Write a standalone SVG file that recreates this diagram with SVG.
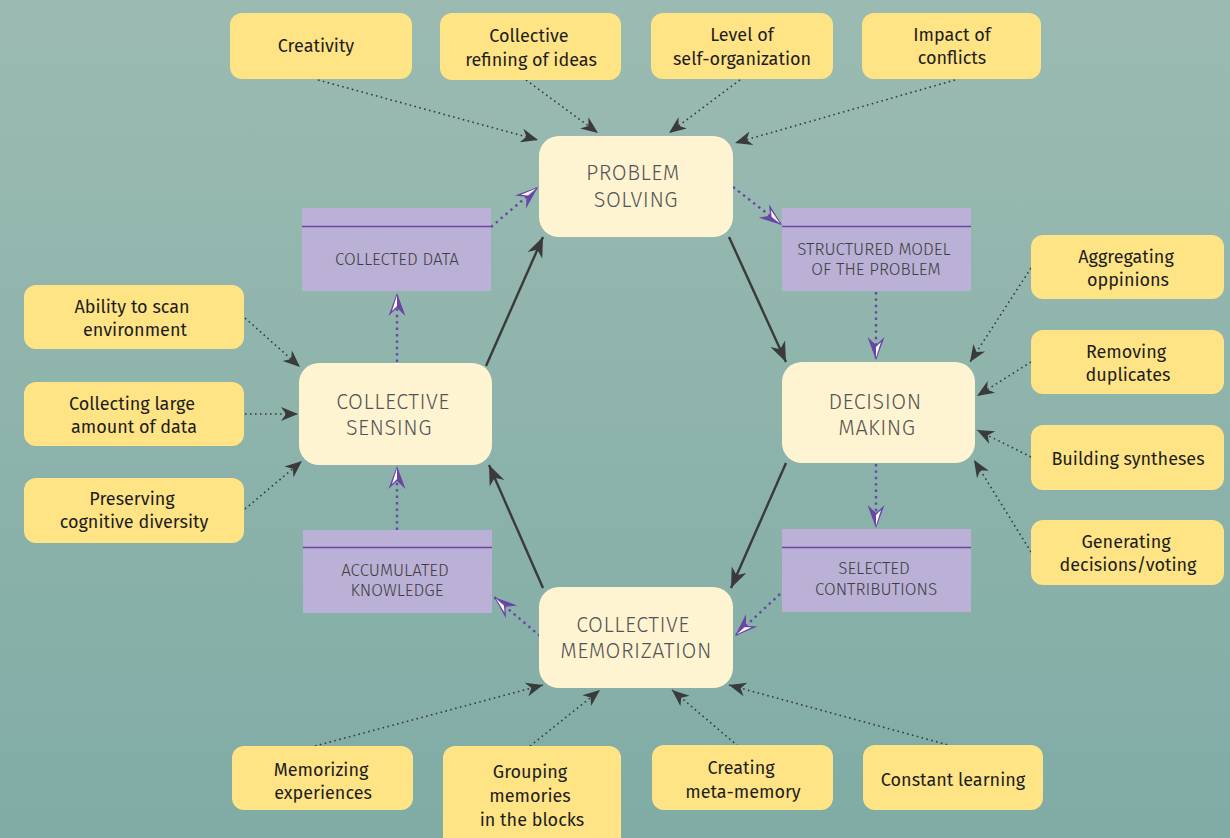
<svg xmlns="http://www.w3.org/2000/svg" width="1230" height="838" viewBox="0 0 1230 838">
<defs>
<linearGradient id="bg" x1="0" y1="0" x2="0" y2="1">
<stop offset="0" stop-color="#9bbbb2"/>
<stop offset="1" stop-color="#80aca5"/>
</linearGradient>
<marker id="ab" viewBox="-18 -8 20 16" refX="0" refY="0" markerWidth="20" markerHeight="16" markerUnits="userSpaceOnUse" orient="auto">
<path d="M0,0 L-17,-7 L-12,0 L-17,7 Z" fill="#3a3a3a"/>
</marker>
<marker id="as" viewBox="-20 -10 22 20" refX="0" refY="0" markerWidth="22" markerHeight="20" markerUnits="userSpaceOnUse" orient="auto">
<path d="M0,0 L-20,-8 L-14,0 L-20,8 Z" fill="#3a3a3a"/>
</marker>
<marker id="ap" viewBox="-24 -10 26 20" refX="0" refY="0" markerWidth="26" markerHeight="20" markerUnits="userSpaceOnUse" orient="auto">
<path d="M0,0 L-23,-8.5 L-15,0 L-23,8.5 Z" fill="#6a45a6"/>
<path d="M-2.5,0 L-18,-5 L-13,0 Z" fill="#ffffff"/>
</marker>
</defs>
<style>
.y{fill:#ffe485}
.yt{font-family:"Fira Sans","Noto Sans","Open Sans",sans-serif;font-size:18px;fill:#1e1e1e;text-anchor:middle}
.m{fill:#fff4d2}
.mt{font-family:"Fira Sans","Noto Sans","Open Sans",sans-serif;font-size:21.5px;font-weight:300;fill:#555555;text-anchor:middle;letter-spacing:0.5px}
.p{fill:#bbb1d6}
.pl{stroke:#6a45a6;stroke-width:1.5}
.pt{font-family:"Fira Sans","Noto Sans","Open Sans",sans-serif;font-size:17px;font-weight:300;fill:#3e3e3e;text-anchor:middle}
.d{fill:none;stroke:#3a3a3a;stroke-width:1.6;stroke-dasharray:1.6 3.4;marker-end:url(#ab)}
.s{fill:none;stroke:#3a3a3a;stroke-width:2.4;marker-end:url(#as)}
.pd{fill:none;stroke:#6a45a6;stroke-width:2.4;stroke-dasharray:2.4 4;marker-end:url(#ap)}
</style>
<rect x="0" y="0" width="1230" height="838" fill="url(#bg)"/>

<g id="connectors">
<path class="d" d="M318,80 L538,140"/>
<path class="d" d="M526,80 L598,133"/>
<path class="d" d="M740,80 L669,133"/>
<path class="d" d="M955,80 L735,143"/>
<path class="d" d="M245,318 L300,367"/>
<path class="d" d="M245,414 L298,414"/>
<path class="d" d="M245,509 L302,461"/>
<path class="d" d="M1031,268 L970,362"/>
<path class="d" d="M1031,362 L977,396"/>
<path class="d" d="M1031,457 L977,430"/>
<path class="d" d="M1031,552 L974,460"/>
<path class="d" d="M315,746 L543,685"/>
<path class="d" d="M530,746 L600,690"/>
<path class="d" d="M738,746 L672,690"/>
<path class="d" d="M952,746 L729,685"/>
<path class="s" d="M486,366 L543,237"/>
<path class="s" d="M729,237 L786,362"/>
<path class="s" d="M786,463 L731,588"/>
<path class="s" d="M543,588 L489,465"/>
<path class="pd" d="M491,227 L538,187"/>
<path class="pd" d="M733,187 L782,225"/>
<path class="pd" d="M876,292 L876,360"/>
<path class="pd" d="M876,464 L876,528"/>
<path class="pd" d="M780,594 L735,636"/>
<path class="pd" d="M540,636 L494,597"/>
<path class="pd" d="M397,530 L397,466"/>
<path class="pd" d="M397,362 L397,293"/>
</g>

<g id="n-creativity"><rect class="y" x="230" y="13" width="182" height="66" rx="12"/><text class="yt" x="316" y="52">Creativity</text></g>
<g id="n-refining"><rect class="y" x="440" y="13" width="181" height="67" rx="12"/><text class="yt" x="529" y="42">Collective</text><text class="yt" x="531" y="66">refining of ideas</text></g>
<g id="n-selforg"><rect class="y" x="651" y="13" width="182" height="66" rx="12"/><text class="yt" x="742" y="41">Level of</text><text class="yt" x="742" y="65">self-organization</text></g>
<g id="n-conflicts"><rect class="y" x="862" y="13" width="179" height="66" rx="12"/><text class="yt" x="952" y="41">Impact of</text><text class="yt" x="952" y="64">conflicts</text></g>

<g id="n-scan"><rect class="y" x="24" y="285" width="220" height="64" rx="12"/><text class="yt" x="132" y="313">Ability to scan</text><text class="yt" x="135" y="336">environment</text></g>
<g id="n-largedata"><rect class="y" x="24" y="382" width="220" height="64" rx="12"/><text class="yt" x="132" y="410">Collecting large</text><text class="yt" x="134" y="433">amount of data</text></g>
<g id="n-diversity"><rect class="y" x="24" y="478" width="220" height="65" rx="12"/><text class="yt" x="132" y="505">Preserving</text><text class="yt" x="134" y="528">cognitive diversity</text></g>

<g id="n-aggregating"><rect class="y" x="1031" y="235" width="193" height="64" rx="12"/><text class="yt" x="1126" y="263">Aggregating</text><text class="yt" x="1128" y="286">oppinions</text></g>
<g id="n-duplicates"><rect class="y" x="1031" y="330" width="193" height="64" rx="12"/><text class="yt" x="1126" y="358">Removing</text><text class="yt" x="1128" y="381">duplicates</text></g>
<g id="n-syntheses"><rect class="y" x="1031" y="425" width="193" height="65" rx="12"/><text class="yt" x="1128" y="465">Building syntheses</text></g>
<g id="n-voting"><rect class="y" x="1031" y="520" width="193" height="65" rx="12"/><text class="yt" x="1126" y="548">Generating</text><text class="yt" x="1128" y="571">decisions/voting</text></g>

<g id="n-experiences"><rect class="y" x="232" y="746" width="181" height="64" rx="12"/><text class="yt" x="321" y="776">Memorizing</text><text class="yt" x="323" y="799">experiences</text></g>
<g id="n-blocks"><rect class="y" x="443" y="746" width="178" height="110" rx="12"/><text class="yt" x="530" y="778">Grouping</text><text class="yt" x="530" y="802">memories</text><text class="yt" x="532" y="826">in the blocks</text></g>
<g id="n-metamemory"><rect class="y" x="652" y="745" width="181" height="65" rx="12"/><text class="yt" x="741" y="774">Creating</text><text class="yt" x="743" y="798">meta-memory</text></g>
<g id="n-learning"><rect class="y" x="863" y="745" width="180" height="65" rx="12"/><text class="yt" x="953" y="786">Constant learning</text></g>

<g id="n-problem"><rect class="m" x="539" y="136" width="194" height="101" rx="20"/><text class="mt" x="633" y="180">PROBLEM</text><text class="mt" x="636" y="207">SOLVING</text></g>
<g id="n-decision"><rect class="m" x="782" y="362" width="193" height="101" rx="20"/><text class="mt" x="875" y="409">DECISION</text><text class="mt" x="877" y="435">MAKING</text></g>
<g id="n-memorization"><rect class="m" x="539" y="587" width="194" height="101" rx="20"/><text class="mt" x="633" y="632">COLLECTIVE</text><text class="mt" x="636" y="658">MEMORIZATION</text></g>
<g id="n-sensing"><rect class="m" x="299" y="363" width="193" height="102" rx="20"/><text class="mt" x="393" y="409">COLLECTIVE</text><text class="mt" x="389" y="435">SENSING</text></g>

<g id="n-collected"><rect class="p" x="302" y="208" width="189" height="83"/><line class="pl" x1="302" y1="226.5" x2="491" y2="226.5"/><text class="pt" x="397" y="265">COLLECTED DATA</text></g>
<g id="n-model"><rect class="p" x="782" y="208" width="189" height="83"/><line class="pl" x1="782" y1="226.5" x2="971" y2="226.5"/><text class="pt" x="874" y="255">STRUCTURED MODEL</text><text class="pt" x="876" y="275">OF THE PROBLEM</text></g>
<g id="n-knowledge"><rect class="p" x="303" y="530" width="189" height="83"/><line class="pl" x1="303" y1="547.5" x2="492" y2="547.5"/><text class="pt" x="395" y="576">ACCUMULATED</text><text class="pt" x="397" y="596">KNOWLEDGE</text></g>
<g id="n-contributions"><rect class="p" x="782" y="529" width="189" height="83"/><line class="pl" x1="782" y1="547.5" x2="971" y2="547.5"/><text class="pt" x="874" y="574">SELECTED</text><text class="pt" x="876" y="595">CONTRIBUTIONS</text></g>
</svg>
